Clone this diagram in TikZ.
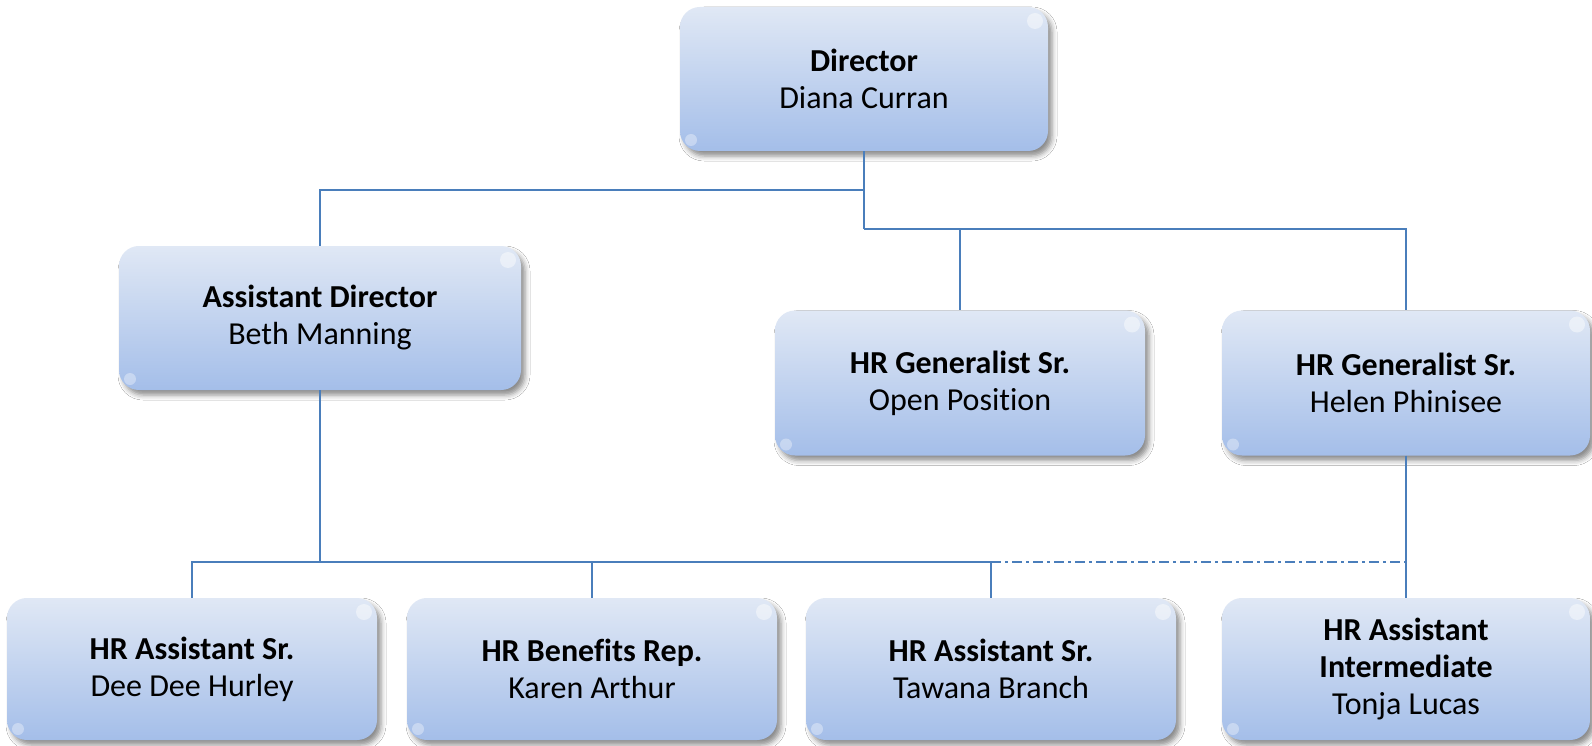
\documentclass[tikz,border=0pt]{standalone}
\usepackage{fontspec}
\setmainfont{Carlito}[Ligatures=NoCommon]
\usetikzlibrary{shadows.blur}
\definecolor{boxtop}{HTML}{E0E8F5}
\definecolor{boxbot}{HTML}{A4BEE9}
\definecolor{linec}{HTML}{4A7EBB}
\tikzset{
  orgbox/.style={rectangle, rounded corners=20pt, top color=boxtop, bottom color=boxbot,
    minimum width=370pt, minimum height=144pt, align=center, inner sep=0pt,
    font=\fontsize{32}{37}\selectfont,
    blur shadow={shadow xshift=4pt, shadow yshift=-5pt, shadow blur radius=5pt, shadow opacity=45},
    path picture={
      \fill[white,opacity=.45] ([xshift=-13pt,yshift=-14pt]path picture bounding box.north east) circle (8pt);
      \fill[white,opacity=.35] ([xshift=11pt,yshift=11pt]path picture bounding box.south west) circle (6pt);
    }},
  conn/.style={draw=linec, line width=1.6pt},
  conndd/.style={conn, dash pattern=on 10pt off 4pt on 3pt off 4pt}
}
\begin{document}
\begin{tikzpicture}[x=1pt,y=-1pt]
\fill[white] (0,0) rectangle (1592,746);
\useasboundingbox (0,0) rectangle (1592,746);

\node[orgbox, minimum width=368pt] (dir) at (864,79) {\textbf{Director}\\Diana Curran};
\node[orgbox, minimum width=402pt] (ad) at (320,318) {\textbf{Assistant Director}\\Beth Manning};
\node[orgbox, minimum height=145pt] (g1) at (960,383) {\textbf{HR Generalist Sr.}\\Open Position};
\node[orgbox, minimum width=368pt, minimum height=145pt] (g2) at (1406,383) {\textbf{HR Generalist Sr.}\\Helen Phinisee};
\node[orgbox, minimum height=142pt] (b1) at (192,669) {\textbf{HR Assistant Sr.}\\Dee Dee Hurley};
\node[orgbox, minimum height=142pt] (b2) at (592,669) {\textbf{HR Benefits Rep.}\\Karen Arthur};
\node[orgbox, minimum height=142pt] (b3) at (991,669) {\textbf{HR Assistant Sr.}\\Tawana Branch};
\node[orgbox, minimum width=368pt, minimum height=142pt] (b4) at (1406,669) {\textbf{HR Assistant}\\\textbf{Intermediate}\\Tonja Lucas};

\coordinate (h1) at (864,190);
\coordinate (h2) at (864,229);
\coordinate (h3) at (320,562);

\draw[conn] (dir.south) -- (h2);
\draw[conn] (h1) -| (ad.north);
\draw[conn] (h2) -| (g2.north);
\draw[conn] (g1.north |- h2) -- (g1.north);
\draw[conn] (ad.south) -- (h3);
\draw[conn] (b1.north) |- (b3.north |- h3) -- (b3.north);
\draw[conn] (b2.north |- h3) -- (b2.north);
\draw[conndd] (b3.north |- h3) -- (b4.north |- h3);
\draw[conn] (g2.south) -- (b4.north);
\end{tikzpicture}
\end{document}
